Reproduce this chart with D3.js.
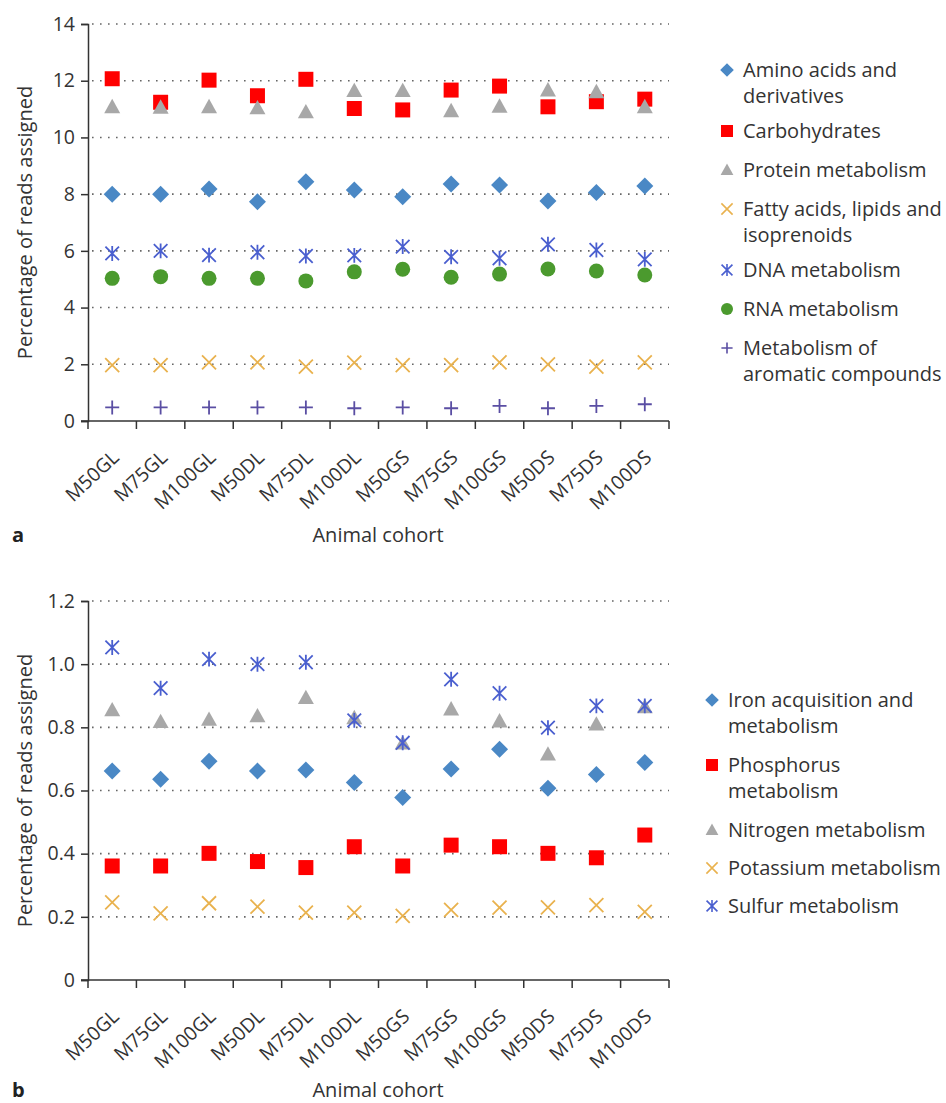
<!DOCTYPE html>
<html>
<head>
<meta charset="utf-8">
<script src="https://cdn.jsdelivr.net/npm/d3@7"></script>
<style>
body{margin:0;background:#fff;}
text{font-family:"Open Sans",sans-serif;fill:#333;}
</style>
</head>
<body>
<script>
//categories on the x axis (same for both panels)
var cohorts = ["M50GL","M75GL","M100GL","M50DL","M75DL","M100DL","M50GS","M75GS","M100GS","M50DS","M75DS","M100DS"];

//panel a values (percentage of reads)
var aminoAcids    = [8.00, 8.00, 8.18, 7.73, 8.44, 8.15, 7.91, 8.36, 8.32, 7.76, 8.06, 8.29];
var carbohydrates = [12.07, 11.24, 12.02, 11.47, 12.05, 11.02, 10.97, 11.67, 11.81, 11.08, 11.26, 11.35];
var proteinMet    = [11.08, 11.06, 11.08, 11.04, 10.90, 11.65, 11.65, 10.94, 11.10, 11.67, 11.61, 11.08];
var fattyAcids    = [1.97, 1.97, 2.07, 2.07, 1.92, 2.06, 1.97, 1.97, 2.07, 2.00, 1.92, 2.07];
var dnaMet        = [5.91, 6.00, 5.85, 5.95, 5.82, 5.84, 6.15, 5.79, 5.74, 6.23, 6.03, 5.70];
var rnaMet        = [5.03, 5.09, 5.03, 5.03, 4.94, 5.26, 5.35, 5.07, 5.18, 5.36, 5.29, 5.15];
var aromatic      = [0.48, 0.48, 0.48, 0.48, 0.48, 0.45, 0.48, 0.45, 0.53, 0.45, 0.53, 0.59];
var ticksA = [0, 2, 4, 6, 8, 10, 12, 14];

//panel b values
var ironMet    = [0.662, 0.636, 0.693, 0.662, 0.665, 0.625, 0.578, 0.668, 0.731, 0.607, 0.651, 0.689];
var phosphorus = [0.361, 0.361, 0.401, 0.375, 0.356, 0.422, 0.361, 0.427, 0.422, 0.401, 0.387, 0.459];
var nitrogen   = [0.855, 0.818, 0.825, 0.836, 0.894, 0.830, 0.750, 0.858, 0.820, 0.715, 0.810, 0.865];
var potassium  = [0.246, 0.211, 0.243, 0.232, 0.213, 0.213, 0.203, 0.222, 0.229, 0.230, 0.237, 0.216];
var sulfur     = [1.053, 0.924, 1.016, 1.000, 1.006, 0.822, 0.751, 0.952, 0.908, 0.799, 0.868, 0.868];
var ticksB = [0, 0.2, 0.4, 0.6, 0.8, 1.0, 1.2];

//marker shapes, s = half size
function markerPath(kind, s){
    var p = d3.path();
    if (kind == "diamond"){
        p.moveTo(0,-s); p.lineTo(s,0); p.lineTo(0,s); p.lineTo(-s,0); p.closePath();
    } else if (kind == "square"){
        p.rect(-s,-s,2*s,2*s);
    } else if (kind == "triangle"){
        p.moveTo(0,-s); p.lineTo(s,s*0.8); p.lineTo(-s,s*0.8); p.closePath();
    } else if (kind == "circle"){
        p.arc(0,0,s,0,2*Math.PI);
    } else if (kind == "times"){
        p.moveTo(-s,-s); p.lineTo(s,s); p.moveTo(s,-s); p.lineTo(-s,s);
    } else if (kind == "plus"){
        p.moveTo(-s,0); p.lineTo(s,0); p.moveTo(0,-s); p.lineTo(0,s);
    } else if (kind == "asterisk"){
        p.moveTo(-s,-s); p.lineTo(s,s); p.moveTo(s,-s); p.lineTo(-s,s);
        p.moveTo(0,-s*1.1); p.lineTo(0,s*1.1);
    }
    return p.toString();
}
var filled = {diamond:true, square:true, triangle:true, circle:true};

var svg = d3.select("body")
    .append("svg")
    .attr("width", 946)
    .attr("height", 1103)
    .attr("class", "container");

function drawPanel(cfg){
    var g = svg.append("g").attr("class", "panel");

    var x = d3.scaleBand()
        .domain(cohorts)
        .range([88, 669]);
    var y = d3.scaleLinear()
        .domain([0, cfg.ticks[cfg.ticks.length - 1]])
        .range([cfg.bottom, cfg.top]);

    //dotted gridlines
    g.selectAll(".grid")
        .data(cfg.ticks.slice(1))
        .enter()
        .append("line")
        .attr("x1", 92)
        .attr("x2", 669)
        .attr("y1", function(d){ return y(d); })
        .attr("y2", function(d){ return y(d); })
        .style("stroke", "#666")
        .style("stroke-width", 1.6)
        .style("stroke-dasharray", "1.6,6.4")
        .style("stroke-linecap", "butt");

    //y axis
    var yAxis = d3.axisLeft(y)
        .tickValues(cfg.ticks)
        .tickSize(7)
        .tickPadding(6)
        .tickFormat(cfg.fmt);
    var ya = g.append("g")
        .attr("transform", "translate(88,0)")
        .call(yAxis);
    ya.select(".domain").style("stroke", "#333").style("stroke-width", 1.5);
    ya.selectAll(".tick line").style("stroke", "#333").style("stroke-width", 1.5);
    ya.selectAll(".tick text").style("font-size", "19.5px").style("fill", "#333").style("font-family", "'Open Sans',sans-serif");

    //x axis line and ticks at band edges
    g.append("line")
        .attr("x1", 81).attr("x2", 669)
        .attr("y1", cfg.bottom).attr("y2", cfg.bottom)
        .style("stroke", "#333").style("stroke-width", 1.5);
    var edges = cohorts.map(function(c){ return x(c); }).concat([x.range()[1]]);
    g.selectAll(".xtick")
        .data(edges)
        .enter()
        .append("line")
        .attr("x1", function(d){ return d; })
        .attr("x2", function(d){ return d; })
        .attr("y1", cfg.bottom)
        .attr("y2", cfg.bottom + 8)
        .style("stroke", "#333").style("stroke-width", 1.5);

    //rotated cohort labels
    g.selectAll(".xlabel")
        .data(cohorts)
        .enter()
        .append("text")
        .attr("transform", function(d){
            return "translate(" + (x(d) + x.bandwidth()/2 + 8) + "," + (cfg.bottom + 38) + ") rotate(-43)";
        })
        .attr("text-anchor", "end")
        .style("font-size", "19.5px")
        .text(function(d){ return d; });

    //axis titles and panel letter
    g.append("text")
        .attr("transform", "translate(32," + (cfg.top + cfg.bottom)/2 + ") rotate(-90)")
        .attr("text-anchor", "middle")
        .style("font-size", "20px")
        .text("Percentage of reads assigned");
    g.append("text")
        .attr("x", 378)
        .attr("y", cfg.bottom + cfg.titleGap)
        .attr("text-anchor", "middle")
        .style("font-size", "20px")
        .text("Animal cohort");
    g.append("text")
        .attr("x", 12)
        .attr("y", cfg.bottom + cfg.titleGap)
        .style("font-size", "20px")
        .style("font-weight", "bold")
        .style("fill", "#222")
        .text(cfg.letter);

    //points, one group per series, in legend order
    cfg.series.forEach(function(s){
        g.append("g")
            .selectAll("path")
            .data(s.values)
            .enter()
            .append("path")
            .attr("transform", function(d, i){
                return "translate(" + (x(cohorts[i]) + x.bandwidth()/2) + "," + y(d) + ")";
            })
            .attr("d", markerPath(s.shape, s.size))
            .style("fill", filled[s.shape] ? s.color : "none")
            .style("stroke", filled[s.shape] ? "none" : s.color)
            .style("stroke-width", 1.8);
    });

    //legend
    var ly = cfg.legendTop;
    cfg.series.forEach(function(s){
        var item = g.append("g");
        item.append("path")
            .attr("transform", "translate(" + cfg.legendX + "," + ly + ")")
            .attr("d", markerPath(s.shape, s.size * 0.8))
            .style("fill", filled[s.shape] ? s.color : "none")
            .style("stroke", filled[s.shape] ? "none" : s.color)
            .style("stroke-width", 1.6);
        s.label.forEach(function(line, k){
            item.append("text")
                .attr("x", cfg.legendX + 16)
                .attr("y", ly + k * 26 + 7)
                .style("font-size", "20px")
                .text(line);
        });
        ly += cfg.step + (s.label.length - 1) * cfg.extra;
    });
}

drawPanel({
    letter: "a",
    top: 24, bottom: 421, titleGap: 121,
    ticks: ticksA,
    fmt: d3.format("d"),
    legendX: 727, legendTop: 70, step: 39, extra: 22,
    series: [
        {label: ["Amino acids and", "derivatives"], values: aminoAcids, shape: "diamond", color: "#4a88c5", size: 8.5},
        {label: ["Carbohydrates"], values: carbohydrates, shape: "square", color: "#ff0000", size: 7.5},
        {label: ["Protein metabolism"], values: proteinMet, shape: "triangle", color: "#a8a8a8", size: 8},
        {label: ["Fatty acids, lipids and", "isoprenoids"], values: fattyAcids, shape: "times", color: "#e9b24e", size: 7},
        {label: ["DNA metabolism"], values: dnaMet, shape: "asterisk", color: "#4a5fcf", size: 6.8},
        {label: ["RNA metabolism"], values: rnaMet, shape: "circle", color: "#4b9a2e", size: 7.5},
        {label: ["Metabolism of", "aromatic compounds"], values: aromatic, shape: "plus", color: "#5a4ea3", size: 7}
    ]
});

drawPanel({
    letter: "b",
    top: 601, bottom: 980, titleGap: 117,
    ticks: ticksB,
    fmt: function(d){ return d == 0 ? "0" : d3.format(".1f")(d); },
    legendX: 712, legendTop: 700, step: 38, extra: 27,
    series: [
        {label: ["Iron acquisition and", "metabolism"], values: ironMet, shape: "diamond", color: "#4a88c5", size: 8.5},
        {label: ["Phosphorus", "metabolism"], values: phosphorus, shape: "square", color: "#ff0000", size: 7.5},
        {label: ["Nitrogen metabolism"], values: nitrogen, shape: "triangle", color: "#a8a8a8", size: 8},
        {label: ["Potassium metabolism"], values: potassium, shape: "times", color: "#e9b24e", size: 7},
        {label: ["Sulfur metabolism"], values: sulfur, shape: "asterisk", color: "#4a5fcf", size: 6.8}
    ]
});
</script>
</body>
</html>
